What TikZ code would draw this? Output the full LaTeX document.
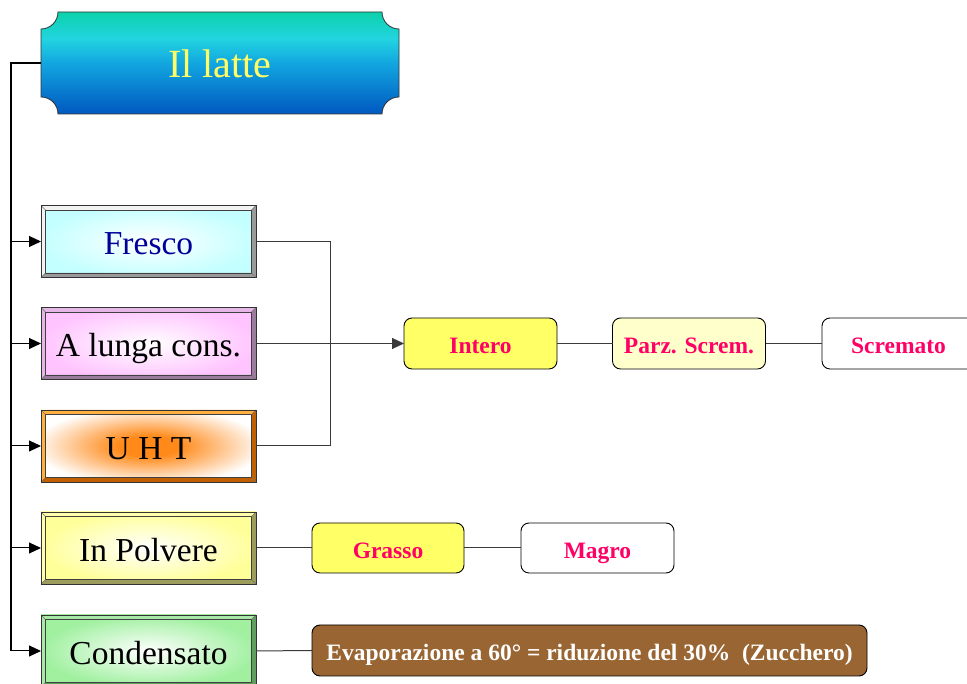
\documentclass[tikz,border=0pt]{standalone}
\usepackage{fontspec}
\setmainfont{Liberation Serif}
\usetikzlibrary{arrows.meta,calc}

\definecolor{linegray}{HTML}{3A3A3A}
\definecolor{titleBot}{HTML}{0058C0}
\definecolor{titleMid}{HTML}{12A6E0}
\definecolor{titleCyan}{HTML}{22D4E0}
\definecolor{titleTop}{HTML}{0CD2AA}
\definecolor{titleText}{HTML}{FFFF66}
\definecolor{freshFill}{HTML}{C4FFFF}
\definecolor{freshText}{HTML}{000099}
\definecolor{freshLight}{HTML}{F2F2F2}
\definecolor{freshDark}{HTML}{9A9A9A}
\definecolor{longFill}{HTML}{FFC4FF}
\definecolor{longLight}{HTML}{E6B6E6}
\definecolor{longDark}{HTML}{9C7C9C}
\definecolor{uhtFill}{HTML}{FF8A1A}
\definecolor{uhtLight}{HTML}{FFB040}
\definecolor{uhtDark}{HTML}{C06000}
\definecolor{powderFill}{HTML}{FFFF99}
\definecolor{powderLight}{HTML}{FFFFAA}
\definecolor{powderDark}{HTML}{9C9C5C}
\definecolor{condFill}{HTML}{A0F0A0}
\definecolor{condLight}{HTML}{A8E8A8}
\definecolor{condDark}{HTML}{5E9E5E}
\definecolor{tagPink}{HTML}{FF0066}
\definecolor{tagYellow}{HTML}{FFFF66}
\definecolor{tagPale}{HTML}{FFFFCC}
\definecolor{tagBrown}{HTML}{996633}

% vertical shading of the title plate (bottom -> top)
\pgfdeclareverticalshading{lattetitle}{100bp}{%
  color(0bp)=(titleBot); color(25bp)=(titleBot); color(50bp)=(titleMid);
  color(62bp)=(titleCyan); color(75bp)=(titleTop); color(100bp)=(titleTop)}

% glowing orange centre of the UHT box
\pgfdeclareradialshading{uhtglow}{\pgfpoint{0bp}{0bp}}{%
  color(0bp)=(uhtFill); color(7bp)=(uhtFill); color(27bp)=(white); color(50bp)=(white)}

% bevelled frame drawn over a branch node: #1 node, #2 light side, #3 dark side
\newcommand\bevelframe[3]{%
  \fill[#2] (#1.north west) -- (#1.north east) -- ($(#1.north east)+(-4.5,-4.5)$) -- ($(#1.north west)+(4.5,-4.5)$) -- cycle;
  \fill[#2] (#1.north west) -- (#1.south west) -- ($(#1.south west)+(4.5,4.5)$) -- ($(#1.north west)+(4.5,-4.5)$) -- cycle;
  \fill[#3] (#1.north east) -- (#1.south east) -- ($(#1.south east)+(-4.5,4.5)$) -- ($(#1.north east)+(-4.5,-4.5)$) -- cycle;
  \fill[#3] (#1.south west) -- (#1.south east) -- ($(#1.south east)+(-4.5,4.5)$) -- ($(#1.south west)+(4.5,4.5)$) -- cycle;
  \draw[black!75, line width=0.6pt] ($(#1.north west)+(4.5,-4.5)$) rectangle ($(#1.south east)+(-4.5,4.5)$);
  \draw[black!55, line width=0.4pt] (#1.north west) -- ($(#1.north west)+(4.5,-4.5)$)
    (#1.north east) -- ($(#1.north east)+(-4.5,-4.5)$)
    (#1.south west) -- ($(#1.south west)+(4.5,4.5)$)
    (#1.south east) -- ($(#1.south east)+(-4.5,4.5)$);
  \draw[black!80, line width=0.8pt] (#1.north west) rectangle (#1.south east);
}

\begin{document}
\begin{tikzpicture}[x=1pt,y=1pt,
  conn/.style={draw=linegray, line width=1pt},
  trunkline/.style={draw=black, line width=1.4pt},
  arr/.style={draw=black, line width=1pt, -{Triangle[length=12pt,width=11pt]}},
  branch/.style={rectangle, minimum width=215pt, minimum height=72pt,
    outer sep=0pt, inner sep=0pt, text height=27pt, text depth=0pt,
    font=\fontsize{33.5}{36}\selectfont},
  tag/.style={rectangle, rounded corners=8pt, draw=black, line width=0.9pt,
    minimum width=153pt, minimum height=51pt, outer sep=0pt, inner sep=0pt,
    text height=20.5pt, text depth=0pt,
    font=\fontsize{23.5}{26}\selectfont\bfseries, text=tagPink},
]
\useasboundingbox (0,0) rectangle (967,684);
\clip (0,0) rectangle (967,684);

% title plate with concave corners
\coordinate (tnw) at (41,672);
\coordinate (tse) at (399,570);
\shade[shading=lattetitle, draw=black!80, line width=0.8pt]
  ($(tnw)+(17,0)$) -- ($(tse|-tnw)+(-17,0)$)
  arc[start angle=180, end angle=270, radius=17pt]
  -- ($(tse)+(0,17)$)
  arc[start angle=90, end angle=180, radius=17pt]
  -- ($(tnw|-tse)+(17,0)$)
  arc[start angle=0, end angle=90, radius=17pt]
  -- ($(tnw)+(0,-17)$)
  arc[start angle=270, end angle=360, radius=17pt] -- cycle;
\node[minimum width=358pt, minimum height=102pt, outer sep=0pt, inner sep=0pt,
  text height=29pt, text depth=0pt,
  text=titleText, font=\fontsize{40}{44}\selectfont] (title) at (220,621) {Il latte};

% branch boxes
\node[branch, inner color=white, outer color=freshFill, text=freshText] (fresco) at (148.5,442.5) {Fresco};
\bevelframe{fresco}{freshLight}{freshDark}
\node[branch, inner color=white, outer color=longFill] (lunga) at (148.5,340.5) {A lunga cons.};
\bevelframe{lunga}{longLight}{longDark}
\node[branch, shading=uhtglow] (uht) at (148.5,238) {U H T};
\bevelframe{uht}{uhtLight}{uhtDark}
\node[branch, inner color=white, outer color=powderFill] (polvere) at (148.5,136) {In Polvere};
\bevelframe{polvere}{powderLight}{powderDark}
\node[branch, inner color=white, outer color=condFill] (condensato) at (148.5,33) {Condensato};
\bevelframe{condensato}{condLight}{condDark}

% product types
\node[tag, fill=tagYellow] (intero) at (480.5,340.5) {Intero};
\node[tag, fill=tagPale] (parz) at (689,340.5) {Parz. Screm.};
\node[tag, fill=white] (scremato) at (898.5,340.5) {Scremato};
\node[tag, fill=tagYellow, minimum width=152pt, minimum height=50pt] (grasso) at (388,136) {Grasso};
\node[tag, fill=white, minimum width=153pt, minimum height=50pt] (magro) at (597.5,136) {Magro};
\node[tag, fill=tagBrown, text=white, minimum width=555pt] (evap) at (589.5,33.5)
  {Evaporazione a 60° = riduzione del 30\%\ \ (Zucchero)};

% trunk from the title to the branches
\coordinate (trunkend) at (11,33);
\draw[trunkline] (title.west) -| (trunkend);
\foreach \b in {fresco,lunga,uht,polvere,condensato}
  \draw[arr] (trunkend |- \b.west) -- (\b.west);

% links between branches and product types
\coordinate (joint) at (330,0);
\draw[conn] (fresco.east) -| (joint |- uht.east) -- (uht.east);
\draw[arr, draw=linegray] (lunga.east) -- (intero.west);
\draw[conn] (intero.east) -- (parz.west);
\draw[conn] (parz.east) -- (scremato.west);
\draw[conn] (polvere.east) -- (grasso.west);
\draw[conn] (grasso.east) -- (magro.west);
\draw[conn] (condensato.east) -- (evap.west);
\end{tikzpicture}
\end{document}
